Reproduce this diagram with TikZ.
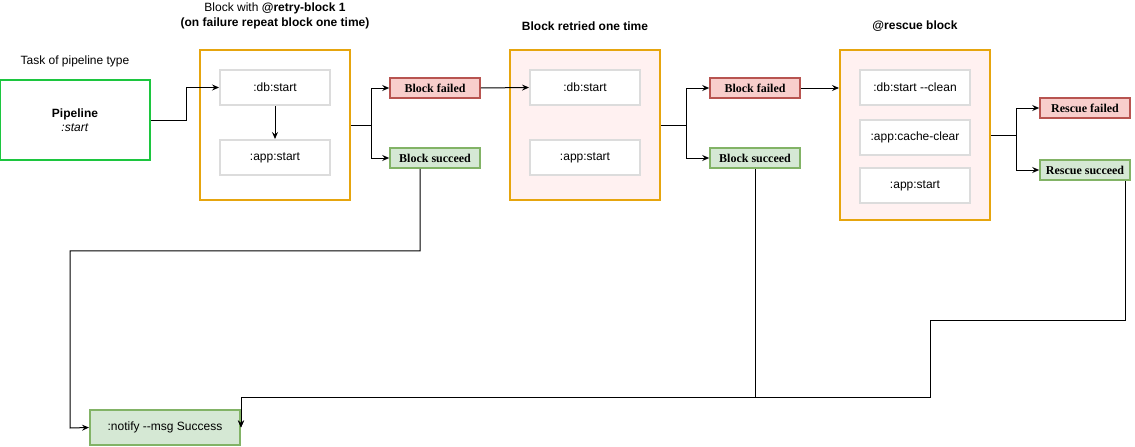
\documentclass[tikz,border=0pt]{standalone}
\usepackage{fontspec}
\setmainfont{Liberation Sans}
\newfontfamily\serifb{Liberation Serif}
\usetikzlibrary{arrows.meta,calc}
\definecolor{orangeS}{HTML}{E6A50E}
\definecolor{pinkF}{HTML}{FFF1F1}
\definecolor{pipeG}{HTML}{1CC63F}
\definecolor{grayS}{HTML}{DCDCDC}
\definecolor{redF}{HTML}{F8CECC}
\definecolor{redS}{HTML}{B85450}
\definecolor{greenF}{HTML}{D5E8D4}
\definecolor{greenS}{HTML}{82B366}
\newcommand\ddash{-\kern0pt-}
\tikzset{
  every node/.style={inner sep=0pt, font=\fontsize{12}{14}\selectfont},
  pipebox/.style={draw=pipeG, line width=2pt, fill=white, minimum width=150pt, minimum height=80pt, align=center},
  blockbox/.style={draw=orangeS, line width=2pt, minimum width=150pt},
  innerbox/.style={draw=grayS, line width=2pt, fill=white, minimum width=110pt, minimum height=35pt},
  failbox/.style={draw=redS, line width=1.6pt, fill=redF, minimum width=90pt, minimum height=20pt, font=\serifb\bfseries\fontsize{12}{14}\selectfont},
  okbox/.style={draw=greenS, line width=1.6pt, fill=greenF, minimum width=90pt, minimum height=20pt, font=\serifb\bfseries\fontsize{12}{14}\selectfont},
  notebox/.style={draw=greenS, line width=2pt, fill=greenF, minimum width=150pt, minimum height=35pt},
  arr/.style={draw=black, line width=1pt, -{Stealth[length=7pt,width=6pt,inset=2.5pt]}},
  conn/.style={draw=black, line width=1pt},
  title/.style={align=center, font=\bfseries\fontsize{12}{14}\selectfont}
}
\begin{document}
\begin{tikzpicture}[x=1pt,y=-1pt]
\useasboundingbox (0,0) rectangle (1135,447);

% texts
\node (ttask) at (75,61) {Task of pipeline type};
\node[align=center, font=\fontsize{12}{15}\selectfont] (t1) at (275,15.5) {Block with \textbf{@retry-block 1}\\\textbf{(on failure repeat block one time)}};
\node[title] (t2) at (585,26) {Block retried one time};
\node[title] (t3) at (915,26) {@rescue block};

% pipeline
\node[pipebox, font=\fontsize{12}{14}\selectfont] (p) at (75,120) {\textbf{Pipeline}\\\textit{:start}};

% block 1
\node[blockbox, fill=white, minimum height=150pt] (b1) at (275,125) {};
\node[innerbox] (db1) at (275,87.5) {:db:start};
\node[innerbox] (ap1) at (275,157.5) {:app:start};

% block 2
\node[blockbox, fill=pinkF, minimum height=150pt] (b2) at (585,125) {};
\node[innerbox] (db2) at (585,87.5) {:db:start};
\node[innerbox] (ap2) at (585,157.5) {:app:start};

% rescue block
\node[blockbox, fill=pinkF, minimum height=170pt] (r) at (915,135) {};
\node[innerbox] (rdb) at (915,87.5) {:db:start \ddash clean};
\node[innerbox] (rcc) at (915,137.5) {:app:cache-clear};
\node[innerbox] (rap) at (915,185.5) {:app:start};

% result boxes
\node[failbox] (bf1) at (435,88) {Block failed};
\node[okbox] (bs1) at (435,158) {Block succeed};
\node[failbox] (bf2) at (755,88) {Block failed};
\node[okbox] (bs2) at (755,158) {Block succeed};
\node[failbox] (rf) at (1085,108) {Rescue failed};
\node[okbox] (rs) at (1085,170) {Rescue succeed};

% notify
\node[notebox] (n) at (165,427.5) {:notify \ddash msg Success};

% connectors
\draw[arr] (p.east) -- ++(35,0) |- (db1.west);
\draw[arr] (db1.south) -- (ap1.north);
\draw[arr] (b1.east) -- ++(20,0) |- (bf1.west);
\draw[arr] (b1.east) -- ++(20,0) |- (bs1.west);
\draw[arr] (bf1.east) -- (db2.west);
\draw[arr] (b2.east) -- ++(25,0) |- (bf2.west);
\draw[arr] (b2.east) -- ++(25,0) |- (bs2.west);
\draw[arr] (bf2.east) -- (r.west |- bf2.east);
\draw[arr] (r.east) -- ++(25,0) |- (rf.west);
\draw[arr] (r.east) -- ++(25,0) |- (rs.west);

\draw[arr] ([xshift=-15pt]bs1.south) -- ++(0,82) -| (70,428) -- (n.west);
\draw[arr] (bs2.south) -- ++(0,229) -| (n.east);
\draw[arr] ([xshift=-5pt]rs.south east) -- ++(0,140) -| (930,397) -| (n.east);
\end{tikzpicture}
\end{document}
